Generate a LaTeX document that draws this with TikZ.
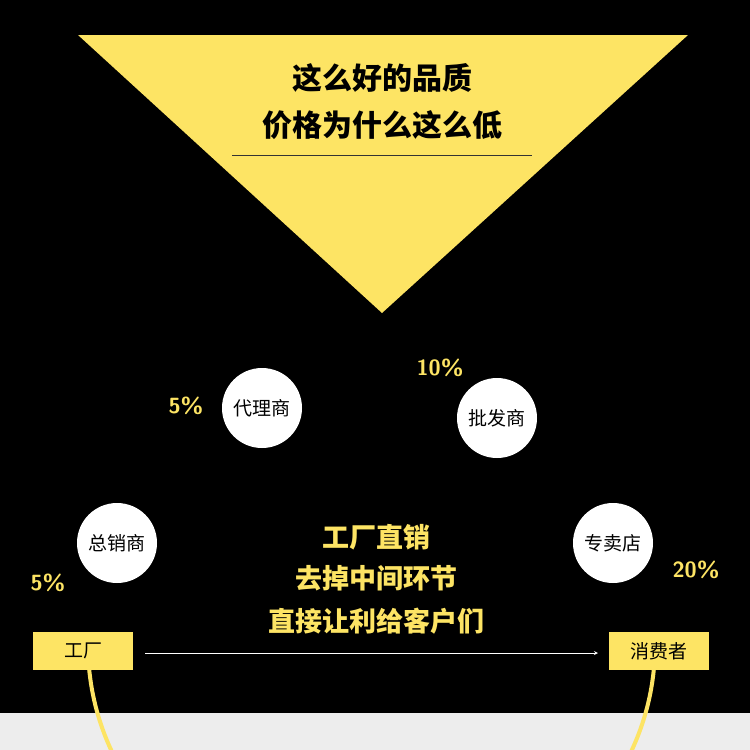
\documentclass[tikz,border=0pt]{standalone}
\usepackage{fontspec}
\setmainfont{Noto Sans CJK SC}
\newfontfamily\cjk{Noto Sans CJK SC}
\begin{document}
\begin{tikzpicture}[x=1pt,y=-1pt,
  yel/.style={fill=yellowc,draw=none},
  station/.style={circle,fill=white,minimum size=80pt,inner sep=0pt,font=\cjk\fontsize{19}{19}\selectfont},
  pct/.style={text=yellowc,font=\sffamily\bfseries\fontsize{22}{22}\selectfont},
  endbox/.style={fill=yellowc,minimum width=100pt,minimum height=38pt,inner sep=0pt,font=\cjk\fontsize{19}{19}\selectfont},
  big/.style={text=yellowc,font=\cjk\bfseries\fontsize{27}{27}\selectfont}]
\definecolor{yellowc}{HTML}{FDE464}
\useasboundingbox (0,0) rectangle (750,750);
\fill[black] (0,0) rectangle (750,713);
\fill[black!7] (0,713) rectangle (750,750);
\fill[yellowc] (78,35) -- (688,35) -- (382,313) -- cycle;
\node[font=\cjk\bfseries\fontsize{30}{30}\selectfont] (t1) at (382,78) {这么好的品质};
\node[font=\cjk\bfseries\fontsize{30}{30}\selectfont] (t2) at (382,125) {价格为什么这么低};
\coordinate (ul1) at (232,155); \coordinate (ul2) at (532,155);
\draw[black!80,line width=0.8pt] (ul1) -- (ul2);
\draw[yellowc,line width=4pt] (88,645) arc[start angle=180,end angle=0,x radius=283.5,y radius=265];
\node[station] (a) at (117,543) {总销商};
\node[station] (b) at (262,408) {代理商};
\node[station] (c) at (497,418) {批发商};
\node[station] (d) at (613,543) {专卖店};
\node[pct] (p1) at (48,583) {5\%};
\node[pct] (p2) at (186,406) {5\%};
\node[pct] (p3) at (440,368) {10\%};
\node[pct] (p4) at (696,570) {20\%};
\node[endbox] (f) at (83,651) {工厂};
\node[endbox] (k) at (659,651) {消费者};
\draw[white,line width=0.8pt,-stealth] (145,653) -- (598,653);
\node[big] (m1) at (376,537) {工厂直销};
\node[big] (m2) at (376,578) {去掉中间环节};
\node[big] (m3) at (376,621) {直接让利给客户们};
\end{tikzpicture}
\end{document}
